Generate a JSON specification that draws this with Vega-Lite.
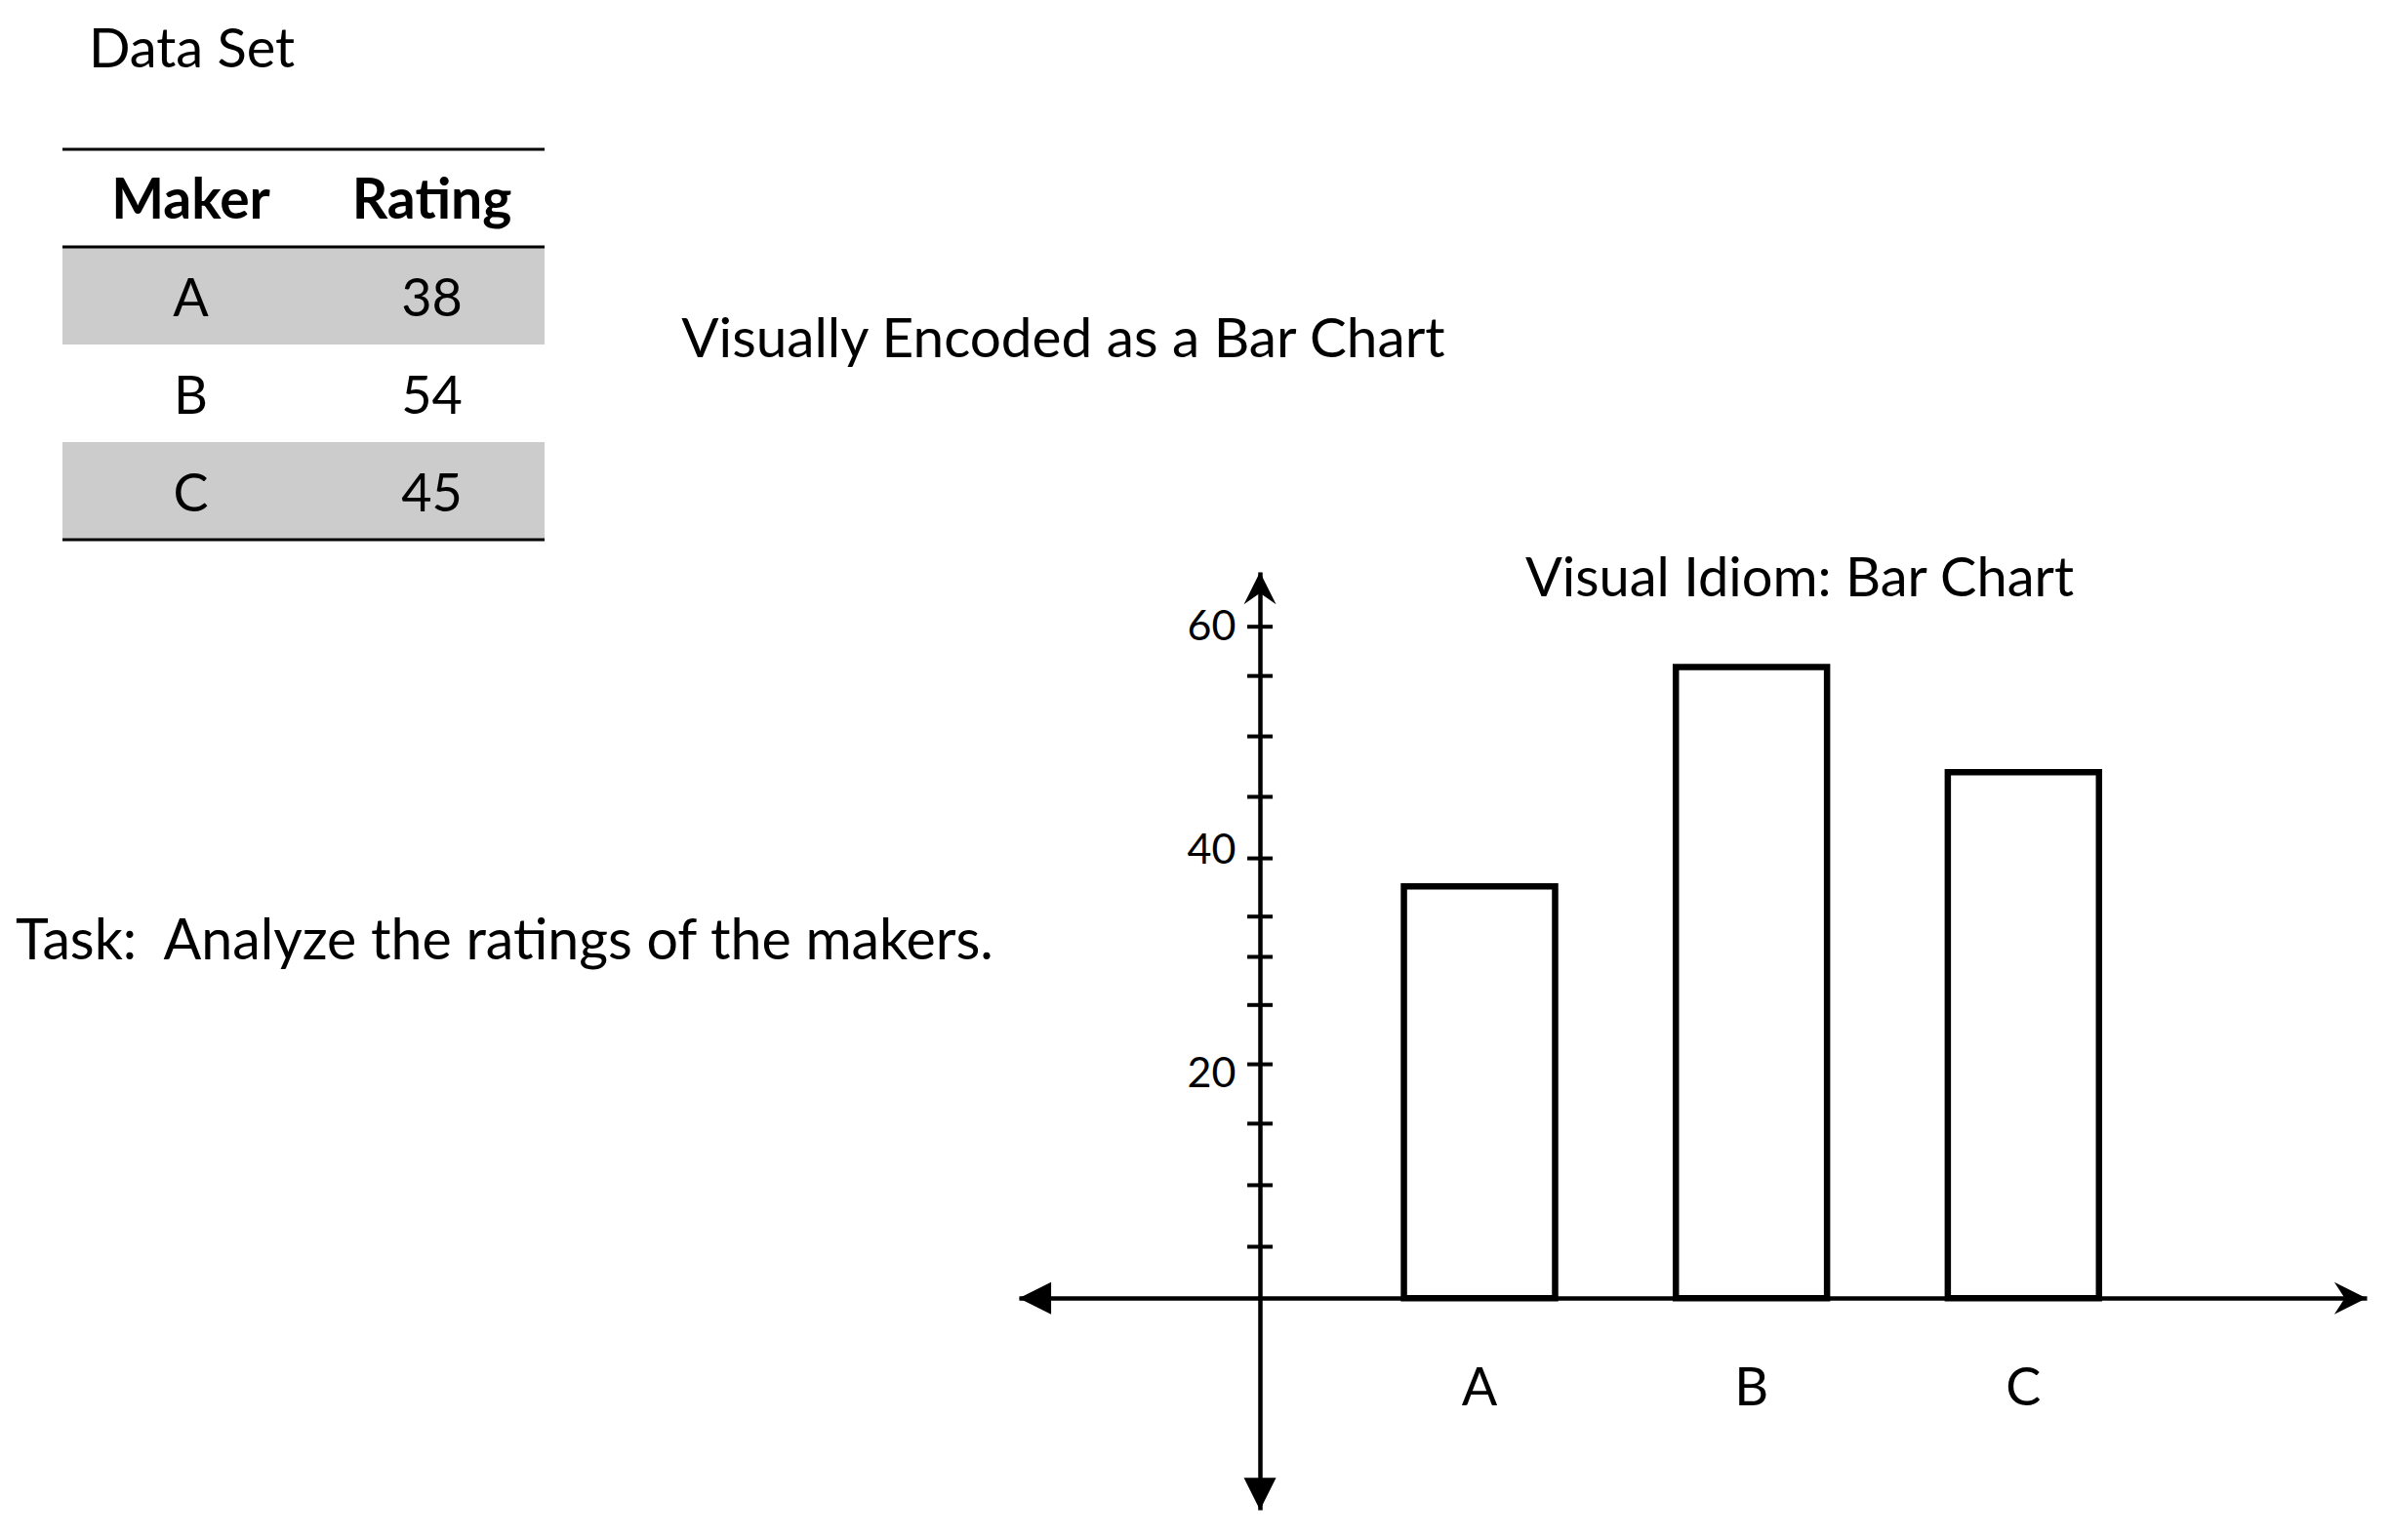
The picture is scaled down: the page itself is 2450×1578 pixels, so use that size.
{
  "$schema": "https://vega.github.io/schema/vega-lite/v6.json",
  "width": 2450,
  "height": 1578,
  "padding": 0,
  "autosize": {"type": "none"},
  "background": "white",
  "config": {
    "view": {"stroke": null},
    "text": {"font": "Lato", "color": "black"},
    "axis": {"labelFont": "Lato", "labelColor": "black"}
  },
  "datasets": {
    "table": [
      {"Maker": "A", "Rating": 38},
      {"Maker": "B", "Rating": 54},
      {"Maker": "C", "Rating": 45}
    ],
    "columns": [
      {"Column": "Maker"},
      {"Column": "Rating"}
    ],
    "bars": [
      {"Maker": "A", "Rating": 36.8},
      {"Maker": "B", "Rating": 56.4},
      {"Maker": "C", "Rating": 47.0}
    ],
    "yticks": [
      {"Tick": 60.0}, {"Tick": 55.6}, {"Tick": 50.2}, {"Tick": 44.8},
      {"Tick": 39.3}, {"Tick": 34.1}, {"Tick": 30.5}, {"Tick": 26.2},
      {"Tick": 20.9}, {"Tick": 15.6}, {"Tick": 10.1}, {"Tick": 4.6}
    ],
    "notes": [
      {"Note": "Data Set", "Task": "Task:\u00a0 Analyze the ratings of the makers.", "Encoded": "Visually Encoded as a Bar Chart", "Idiom": "Visual Idiom: Bar Chart"}
    ]
  },
  "layer": [
    {
      "layer": [
        {
          "data": {"name": "table"},
          "transform": [{"fold": ["Maker", "Rating"], "as": ["Column", "Value"]}],
          "mark": {"type": "rect"},
          "encoding": {
            "x": {"field": "Column", "type": "nominal", "axis": null,
                  "scale": {"type": "band", "domain": ["Maker", "Rating"], "range": [64, 558], "paddingInner": 0, "paddingOuter": 0}},
            "y": {"field": "Maker", "type": "nominal", "axis": null,
                  "scale": {"type": "band", "domain": ["header", "A", "B", "C"], "range": [153, 553], "paddingInner": 0, "paddingOuter": 0}},
            "color": {"condition": {"test": "datum.Maker === 'B'", "value": "white"}, "value": "#cccccc"}
          }
        },
        {
          "data": {"name": "table"},
          "transform": [{"fold": ["Maker", "Rating"], "as": ["Column", "Value"]}],
          "mark": {"type": "text", "fontSize": 54, "align": "center", "baseline": "alphabetic", "dx": 8},
          "encoding": {
            "x": {"field": "Column", "type": "nominal", "axis": null},
            "y": {"field": "Maker", "type": "nominal", "axis": null, "bandPosition": 0.71},
            "text": {"field": "Value", "type": "nominal"}
          }
        },
        {
          "data": {"name": "columns"},
          "mark": {"type": "text", "fontSize": 57, "fontWeight": "bold", "align": "center", "baseline": "alphabetic", "dx": 8},
          "encoding": {
            "x": {"field": "Column", "type": "nominal", "axis": null},
            "y": {"datum": "header", "type": "nominal", "axis": null, "bandPosition": 0.71},
            "text": {"field": "Column", "type": "nominal"}
          }
        },
        {
          "data": {"name": "columns"},
          "mark": {"type": "tick", "orient": "horizontal", "size": 247, "thickness": 3, "color": "black", "opacity": 1},
          "encoding": {
            "x": {"field": "Column", "type": "nominal", "axis": null},
            "y": {"datum": "header", "type": "nominal", "axis": null, "bandPosition": 0}
          }
        },
        {
          "data": {"name": "columns"},
          "mark": {"type": "tick", "orient": "horizontal", "size": 247, "thickness": 3, "color": "black", "opacity": 1},
          "encoding": {
            "x": {"field": "Column", "type": "nominal", "axis": null},
            "y": {"datum": "header", "type": "nominal", "axis": null, "bandPosition": 1}
          }
        },
        {
          "data": {"name": "columns"},
          "mark": {"type": "tick", "orient": "horizontal", "size": 247, "thickness": 3, "color": "black", "opacity": 1},
          "encoding": {
            "x": {"field": "Column", "type": "nominal", "axis": null},
            "y": {"datum": "C", "type": "nominal", "axis": null, "bandPosition": 1}
          }
        },
        {
          "data": {"name": "notes"},
          "mark": {"type": "text", "fontSize": 56, "align": "left", "baseline": "alphabetic"},
          "encoding": {
            "x": {"datum": "Maker", "type": "nominal", "axis": null, "bandPosition": 0.109},
            "y": {"datum": "header", "type": "nominal", "axis": null, "bandPosition": -0.84},
            "text": {"field": "Note", "type": "nominal"}
          }
        },
        {
          "data": {"name": "notes"},
          "mark": {"type": "text", "fontSize": 57.3, "align": "left", "baseline": "alphabetic"},
          "encoding": {
            "x": {"datum": "Maker", "type": "nominal", "axis": null, "bandPosition": -0.194},
            "y": {"datum": "header", "type": "nominal", "axis": null, "bandPosition": 8.3},
            "text": {"field": "Task", "type": "nominal"}
          }
        }
      ]
    },
    {
      "layer": [
        {
          "data": {"name": "bars"},
          "mark": {"type": "bar", "fill": "white", "stroke": "black", "strokeWidth": 6.5, "width": {"band": 0.556}},
          "encoding": {
            "x": {"field": "Maker", "type": "nominal",
                  "scale": {"type": "band", "domain": ["A", "B", "C"], "range": [1044, 2425], "paddingInner": 0, "paddingOuter": 0.978, "align": 0.6104},
                  "axis": {"orient": "bottom", "offset": -248, "title": null, "ticks": false, "tickSize": 0, "labelFontSize": 54, "labelPadding": 66, "labelAngle": 0, "domainColor": "black", "domainWidth": 4.5, "grid": false}},
            "y": {"field": "Rating", "type": "quantitative",
                  "scale": {"type": "linear", "domain": [-18.9, 64.9], "range": [1547, 586], "nice": false, "zero": false},
                  "axis": {"orient": "left", "offset": -1291, "title": null, "values": [20, 40, 60], "ticks": false, "tickSize": 0, "labelFontSize": 43, "labelPadding": 25, "domainColor": "black", "domainWidth": 4.5, "grid": false}},
            "y2": {"datum": 0}
          }
        },
        {
          "data": {"name": "yticks"},
          "mark": {"type": "point", "shape": "stroke", "size": 676, "filled": false, "stroke": "black", "strokeWidth": 4, "opacity": 1},
          "encoding": {
            "x": {"datum": "A", "type": "nominal", "bandPosition": -0.3073},
            "y": {"field": "Tick", "type": "quantitative",
                  "scale": {"type": "linear", "domain": [-18.9, 64.9], "range": [1547, 586], "nice": false, "zero": false}}
          }
        },
        {
          "data": {"name": "notes"},
          "mark": {"type": "point", "shape": "M0,-1L1,1L0,0.3L-1,1Z", "size": 1089, "filled": true, "color": "black", "opacity": 1, "strokeWidth": 0},
          "encoding": {
            "x": {"datum": "A", "type": "nominal", "bandPosition": -0.3073},
            "y": {"datum": 63.44, "type": "quantitative",
                  "scale": {"type": "linear", "domain": [-18.9, 64.9], "range": [1547, 586], "nice": false, "zero": false}}
          }
        },
        {
          "data": {"name": "notes"},
          "mark": {"type": "point", "shape": "M0,1L-1,-1L1,-1Z", "size": 1089, "filled": true, "color": "black", "opacity": 1, "strokeWidth": 0},
          "encoding": {
            "x": {"datum": "A", "type": "nominal", "bandPosition": -0.3073},
            "y": {"datum": -17.48, "type": "quantitative",
                  "scale": {"type": "linear", "domain": [-18.9, 64.9], "range": [1547, 586], "nice": false, "zero": false}}
          }
        },
        {
          "data": {"name": "notes"},
          "mark": {"type": "point", "shape": "M-1,0L1,-1L1,1Z", "size": 1089, "filled": true, "color": "black", "opacity": 1, "strokeWidth": 0},
          "encoding": {
            "x": {"datum": "A", "type": "nominal", "bandPosition": -1.1344},
            "y": {"datum": 0, "type": "quantitative",
                  "scale": {"type": "linear", "domain": [-18.9, 64.9], "range": [1547, 586], "nice": false, "zero": false}}
          }
        },
        {
          "data": {"name": "notes"},
          "mark": {"type": "point", "shape": "M1,0L-1,1L-0.35,0L-1,-1Z", "size": 1089, "filled": true, "color": "black", "opacity": 1, "strokeWidth": 0},
          "encoding": {
            "x": {"datum": "C", "type": "nominal", "bandPosition": 1.7024},
            "y": {"datum": 0, "type": "quantitative",
                  "scale": {"type": "linear", "domain": [-18.9, 64.9], "range": [1547, 586], "nice": false, "zero": false}}
          }
        },
        {
          "data": {"name": "notes"},
          "mark": {"type": "text", "fontSize": 56.7, "align": "left", "baseline": "alphabetic"},
          "encoding": {
            "x": {"datum": "A", "type": "nominal", "bandPosition": -2.4351},
            "y": {"datum": 84.06, "type": "quantitative",
                  "scale": {"type": "linear", "domain": [-18.9, 64.9], "range": [1547, 586], "nice": false, "zero": false}},
            "text": {"field": "Encoded", "type": "nominal"}
          }
        },
        {
          "data": {"name": "notes"},
          "mark": {"type": "text", "fontSize": 56, "align": "center", "baseline": "alphabetic"},
          "encoding": {
            "x": {"datum": "B", "type": "nominal", "bandPosition": 0.6769},
            "y": {"datum": 62.7, "type": "quantitative",
                  "scale": {"type": "linear", "domain": [-18.9, 64.9], "range": [1547, 586], "nice": false, "zero": false}},
            "text": {"field": "Idiom", "type": "nominal"}
          }
        }
      ]
    }
  ],
  "resolve": {"scale": {"x": "independent", "y": "independent"}}
}
